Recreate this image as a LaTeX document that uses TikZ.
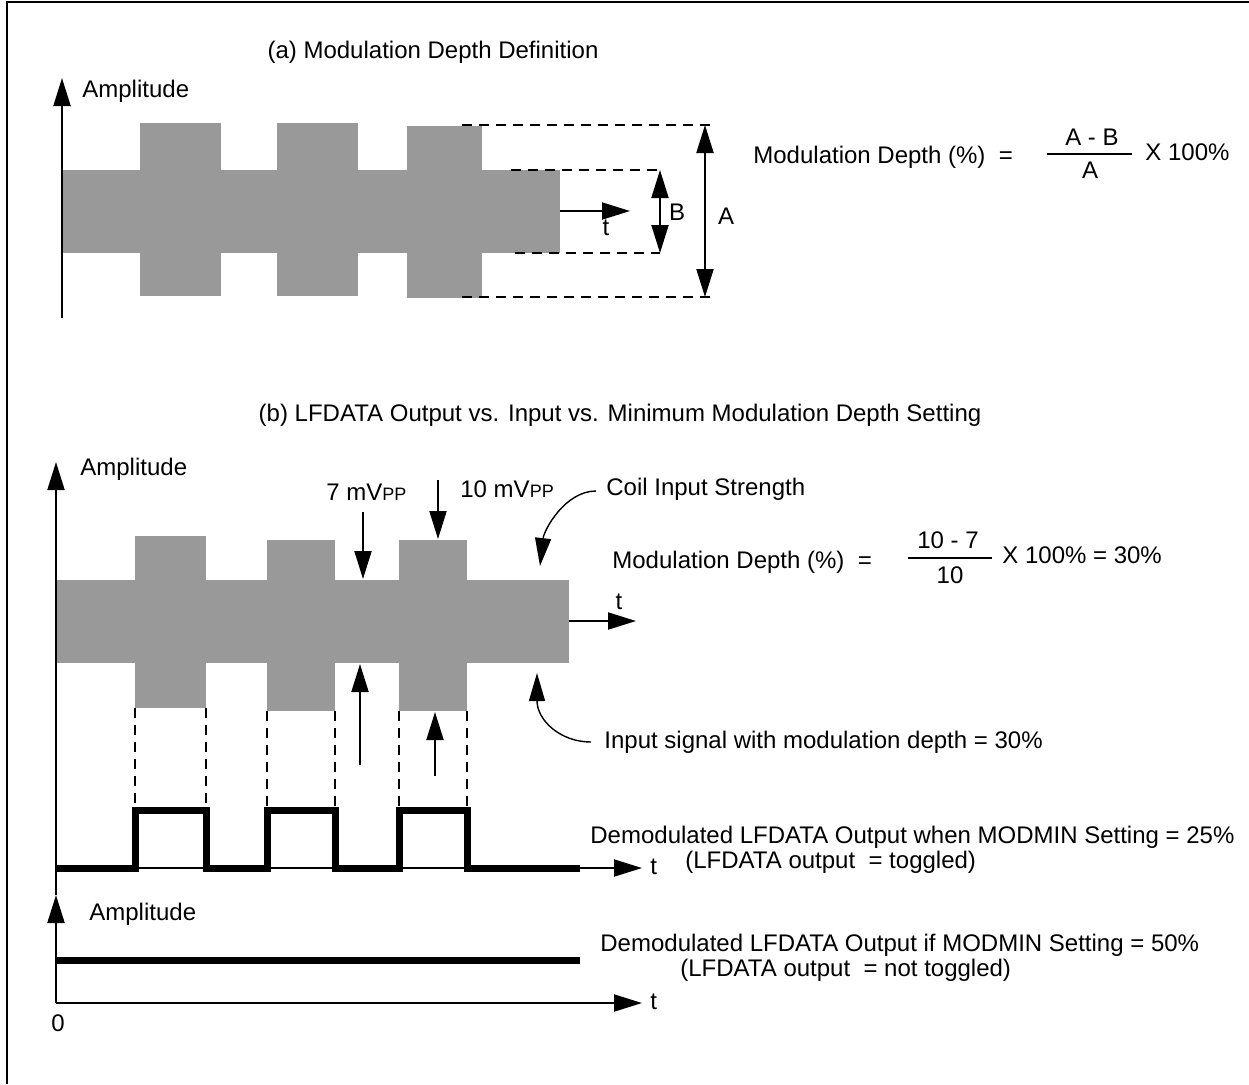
\documentclass[tikz,border=0pt]{standalone}
\usepackage{fontspec}
\setmainfont{Liberation Sans}
\usetikzlibrary{arrows.meta, positioning}
\definecolor{siggray}{RGB}{153, 153, 153}

\begin{document}
\begin{tikzpicture}[
    x=0.5pt, y=-0.5pt,
    font=\fontsize{12}{14}\selectfont,
    lbl/.style={inner sep=0pt, anchor=base west},
    ctr/.style={inner sep=0pt, anchor=base},
    axis/.style={line width=1pt, -{Triangle[length=14pt, width=8.5pt]}},
    dim/.style={line width=1pt, {Triangle[length=14pt, width=8.5pt]}-{Triangle[length=14pt, width=8.5pt]}},
    curvearrow/.style={line width=0.7pt, -{Triangle[length=14pt, width=8pt]}},
    level/.style={line width=1pt, dash pattern=on 5pt off 3.5pt},
    band/.style={fill=siggray, draw=none},
    wave/.style={line width=3.5pt, line join=miter}
]
\useasboundingbox (0,0) rectangle (1249,1084);
\draw[line width=1pt] (7,1084) -- (7,2) -- (1249,2);

% (a) modulation depth definition
\node[ctr] (tita) at (433,58) {(a) Modulation Depth Definition};

\coordinate (ao) at (62,318);
\coordinate (ay) at (62,78);
\coordinate (at0) at (62,211);
\coordinate (at) at (630,211);
\draw[axis] (at0) -- (at);

\fill[band] (63,170) rectangle (560,253);
\fill[band] (140,123) rectangle (221,296);
\fill[band] (277,123) rectangle (358,296);
\fill[band] (407,126) rectangle (482,298);

\draw[axis] (ao) -- (ay);
\node[lbl] (ampa) at (82,97) {Amplitude};
\node[ctr] (ta) at (606,235) {t};

\draw[level] (462,125) -- (716,125);
\draw[level] (462,297) -- (716,297);
\draw[level] (511,170) -- (660,170);
\draw[level] (515,253) -- (660,253);

\coordinate (Btop) at (660,170);
\coordinate (Bbot) at (660,253);
\coordinate (Atop) at (705,125);
\coordinate (Abot) at (705,297);
\draw[dim] (Btop) -- (Bbot);
\draw[dim] (Atop) -- (Abot);
\node[ctr] (Blbl) at (677,220) {B};
\node[ctr] (Albl) at (726,224) {A};

\node[lbl] (mda) at (753,163) {Modulation Depth (\%)\ \ =};
\node[ctr] (numa) at (1092,145) {A - B};
\node[ctr] (dena) at (1090,178) {A};
\draw[line width=1pt] (1047,154) -- (1132,154);
\node[lbl] (xa) at (1145,160) {X 100\%};

% (b) LFDATA output vs. input
\node[ctr] (titb) at (620,421) {(b) LFDATA Output vs. Input vs. Minimum Modulation Depth Setting};

\coordinate (bo) at (56,1003);
\coordinate (bmid) at (56,895);
\coordinate (by) at (56,462);
\coordinate (bt0) at (56,621);
\coordinate (bt) at (636,621);
\draw[axis] (bt0) -- (bt);

\fill[band] (56,580) rectangle (569,663);
\fill[band] (135,536) rectangle (206,708);
\fill[band] (267,540) rectangle (335,711);
\fill[band] (399,540) rectangle (467,711);

\draw[axis] (bo) -- (bmid);
\draw[axis] (bmid) -- (by);
\node[lbl] (ampb) at (80,475) {Amplitude};
\node[ctr] (tb) at (619,609) {t};

\node[lbl] (sevlbl) at (326,500) {7 mV{\fontsize{9}{10}\selectfont PP}};
\node[lbl] (tenlbl) at (460,497) {10 mV{\fontsize{9}{10}\selectfont PP}};
\coordinate (sevtop) at (363,512);
\coordinate (sevtip) at (363,579);
\coordinate (tentop) at (438,480);
\coordinate (tentip) at (438,539);
\coordinate (sevbot) at (360,765);
\coordinate (sevup) at (360,664);
\coordinate (tenbot) at (435,776);
\coordinate (tenup) at (435,712);
\draw[axis] (sevtop) -- (sevtip);
\draw[axis] (tentop) -- (tentip);
\draw[axis] (sevbot) -- (sevup);
\draw[axis] (tenbot) -- (tenup);

\node[lbl] (coil) at (606,495) {Coil Input Strength};
\coordinate (coilstart) at (596,491);
\coordinate (coiltip) at (540,566);
\draw[curvearrow] (coilstart) .. controls (565,491) and (544,530) .. (coiltip);

\node[lbl] (inlbl) at (604,748) {Input signal with modulation depth = 30\%};
\coordinate (instart) at (591,742);
\coordinate (intip) at (537,673);
\draw[curvearrow] (instart) .. controls (560,742) and (537,720) .. (intip);

\node[lbl] (mdb) at (612,568) {Modulation Depth (\%)\ \ =};
\node[ctr] (numb) at (948,548) {10 - 7};
\node[ctr] (denb) at (950,583) {10};
\draw[line width=1pt] (908,558) -- (992,558);
\node[lbl] (xb) at (1002,563) {X 100\% = 30\%};

% demodulated outputs
\draw[level] (135,708) -- (135,806);
\draw[level] (206,708) -- (206,806);
\draw[level] (267,711) -- (267,806);
\draw[level] (335,711) -- (335,806);
\draw[level] (399,711) -- (399,806);
\draw[level] (467,711) -- (467,806);

\coordinate (wt0) at (56,868);
\coordinate (wt) at (642,868);
\draw[axis] (wt0) -- (wt);
\draw[wave] (56,868) -- (135,868) -- (135,810) -- (206,810) -- (206,868)
    -- (267,868) -- (267,810) -- (335,810) -- (335,868)
    -- (399,868) -- (399,810) -- (467,810) -- (467,868) -- (580,868);
\node[lbl] (tw) at (650,874) {t};

\coordinate (lt) at (642,1003);
\draw[axis] (bo) -- (lt);
\draw[wave] (56,960) -- (580,960);
\node[lbl] (ampc) at (89,920) {Amplitude};
\node[lbl] (tl) at (650,1009) {t};
\node[ctr] (zero) at (58,1031) {0};

\node[lbl] (dm25) at (590,843) {Demodulated LFDATA Output when MODMIN Setting = 25\%};
\node[lbl] (tog) at (685,868) {(LFDATA output\ \ = toggled)};
\node[lbl] (dm50) at (600,951) {Demodulated LFDATA Output if MODMIN Setting = 50\%};
\node[lbl] (ntog) at (680,976) {(LFDATA output\ \ = not toggled)};

\end{tikzpicture}
\end{document}
